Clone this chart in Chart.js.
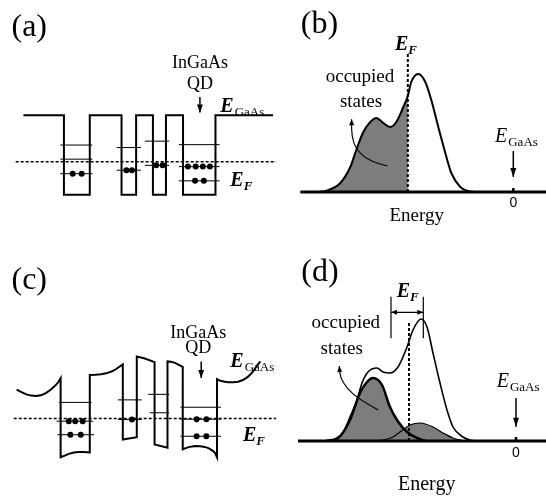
<!DOCTYPE html>
<html>
<head>
<meta charset="utf-8">
<script src="https://cdn.jsdelivr.net/npm/chart.js@4.4.1/dist/chart.umd.min.js"></script>
<style>
  html, body { margin: 0; padding: 0; background: #fff; }
  #fig { position: relative; width: 546px; height: 500px; overflow: hidden; }
  #fig canvas { position: absolute; }
</style>
</head>
<body>
<div id="fig">
  <canvas id="pa" width="280" height="250" style="left:0;top:0"></canvas>
  <canvas id="pb" width="266" height="250" style="left:280px;top:0"></canvas>
  <canvas id="pc" width="280" height="250" style="left:0;top:250px"></canvas>
  <canvas id="pd" width="266" height="250" style="left:280px;top:250px"></canvas>
</div>
<script>
// ─────────────────────────────────────────────
//  DATA  (schematic units: position / energy, E_F = 0 in (a),(c); E_GaAs = 0 in (b),(d))
// ─────────────────────────────────────────────

// (a) flat bands
const bandA_x = [20, 61.7, 61.7, 88.3, 88.3, 121, 121, 136, 136, 153.3, 153.3, 166.7, 166.7, 184.3, 184.3, 217.7, 217.7, 277];
const bandA_E = [48, 48, -34, -34, 48, 48, -34, -34, 48, 48, -34, -34, 48, 48, -34, -34, 48, 48];
const levA_x1 = [58, 58, 58, 116, 116, 145, 145, 180, 180, 180];
const levA_x2 = [91, 91, 91, 141, 141, 170, 170, 222, 222, 222];
const levA_E  = [17.3, 2.7, -12.3, 14.7, -8.7, 21.3, -3.7, 17.7, -5, -19.7];
const dotsA_x = [70.7, 80, 126, 131.7, 156.7, 163.3, 189.3, 197.3, 204.7, 212, 196.7, 205.7];
const dotsA_E = [-12.3, -12.3, -8.7, -8.7, -3.7, -3.7, -5, -5, -5, -5, -19.7, -19.7];

// (c) bent bands
const bandC_x = [13, 18, 23, 28, 33, 38, 43, 48, 52, 55.5, 58.3,
  58.3, 62, 66.7, 72, 76.7, 82, 88.3,
  88.3, 94, 100, 105, 110, 114, 118, 122.3,
  122.3, 136.7, 136.7, 145, 155,
  155, 168.3, 168.3, 172, 176, 180, 184,
  184, 190, 196.7, 202, 206.7, 211, 215, 217.5, 219.3,
  219.3, 222, 226, 231, 236, 241, 246, 251, 255, 258, 261, 264];
const bandC_E = [30, 27.3, 25, 23.7, 23.3, 24, 26.3, 29.7, 33.3, 37, 41.7,
  -40, -38.5, -36.5, -35, -34.5, -34.6, -35,
  45, 45.2, 45.7, 46.7, 48.3, 50.2, 53, 56,
  -21.7, -19.3, 64, 62, 58.3,
  -26.7, -30, 59, 58.6, 57.5, 55.5, 53.3,
  -31.7, -29.5, -28.3, -28.5, -29.3, -30.8, -33.3, -36, -40,
  40.7, 39.3, 38.2, 37.5, 37.4, 38, 39.8, 43, 47, 51, 55.5, 59];
const levC_x1 = [56.7, 54, 55, 117.3, 117.3, 148.3, 150, 181.7, 181.7, 181.7];
const levC_x2 = [90, 91.7, 92.7, 141.7, 141.7, 170, 170, 223.3, 223.3, 223.3];
const levC_E  = [16.7, -2.7, -16.7, 19.3, -1, 25, 6, 11.7, -0.7, -18.3];
const dotsC_x = [66.7, 73.3, 81, 68.3, 79, 131.7, 198.3, 208.3, 198.3, 208.3];
const dotsC_E = [-2.7, -2.7, -2.7, -16.7, -16.7, -1, -0.7, -0.7, -18.3, -18.3];

// (b) density of states
const dosB_E = [-196, -186, -173, -163, -157, -150, -143, -137, -130, -123, -117, -110, -105.5, -102, -95, -88, -82, -75, -68, -62, -53, -45, -38];
const dosB_D = [0, 1.5, 9, 25, 42, 60, 70, 74, 69, 65, 70, 85, 96, 110, 118, 110, 92, 65, 39, 19, 5, 1, 0];
const EF_B = -105.5;

// (d) density of states + two occupied components
const dosD_E = [-192, -181, -173, -166, -159, -154, -148, -139, -133, -126, -118, -109, -103, -95, -89, -83, -76, -69, -63, -53, -46, -38];
const dosD_D = [0, 2, 8, 24, 41, 58, 69, 73, 69, 68, 74, 94, 111, 122, 114, 88, 58, 31, 14, 4, 1, 0];
const g1D_E = [-190, -178, -166, -156, -149, -143, -134, -126, -119, -109, -99, -90];
const g1D_D = [0, 3, 21, 48, 59, 63, 56, 34, 21, 9, 3, 0];
const g2D_E = [-140, -133, -123, -116, -106, -96, -83, -73, -63, -52];
const g2D_D = [0, 1, 4, 9, 16, 18, 14, 8, 3, 0];
const EF_D = -107;
const EF_D_range = [-125, -92.7];

// ─────────────────────────────────────────────
//  HELPERS
// ─────────────────────────────────────────────
const SERIF = '"Liberation Serif", "Times New Roman", serif';
const GREY  = '#7d7d7d';
const DASH  = [3, 2];

const pts = (xs, ys) => xs.map((x, i) => ({ x, y: ys[i] }));

function line(xs, ys, w, extra) {
  return Object.assign({ data: pts(xs, ys), showLine: true, borderColor: '#000', borderWidth: w,
    pointRadius: 0, fill: false, tension: 0, clip: false, borderJoinStyle: 'miter' }, extra || {});
}
function segs(x1s, x2s, ys, w) {
  return x1s.map((x1, i) => line([x1, x2s[i]], [ys[i], ys[i]], w));
}
function dots(xs, ys) {
  return { data: pts(xs, ys), showLine: false, pointRadius: 3, pointBackgroundColor: '#000',
    pointBorderWidth: 0, clip: false };
}

function arrowHead(ctx, x0, y0, x1, y1, len, wid) {
  const a = Math.atan2(y1 - y0, x1 - x0), c = Math.cos(a), s = Math.sin(a);
  ctx.beginPath();
  ctx.moveTo(x1, y1);
  ctx.lineTo(x1 - len * c + wid / 2 * s, y1 - len * s - wid / 2 * c);
  ctx.lineTo(x1 - len * c - wid / 2 * s, y1 - len * s + wid / 2 * c);
  ctx.closePath();
  ctx.fill();
}

// text + arrows drawn in data units of each panel
const annot = {
  id: 'annot',
  afterDatasetsDraw(chart, args, o) {
    const ctx = chart.ctx, sx = chart.scales.x, sy = chart.scales.y;
    const X = v => sx.getPixelForValue(v), Y = v => sy.getPixelForValue(v);
    ctx.save();
    ctx.fillStyle = '#000'; ctx.strokeStyle = '#000';
    (o.texts || []).forEach(t => {
      ctx.font = t.font;
      ctx.textAlign = t.align || 'center';
      ctx.textBaseline = t.base || 'middle';
      ctx.fillText(t.text, X(t.x), Y(t.y));
    });
    (o.subs || []).forEach(t => {
      const px = X(t.x), py = Y(t.y);
      ctx.textAlign = 'left'; ctx.textBaseline = 'alphabetic';
      ctx.font = t.font;
      ctx.fillText(t.main, px, py);
      const w = ctx.measureText(t.main).width;
      ctx.font = t.subFont;
      ctx.fillText(t.sub, px + w + (t.gap || 0), py + (t.dy || 4));
    });
    (o.arrows || []).forEach(a => {
      const p = a.pts.map(q => [X(q[0]), Y(q[1])]);
      ctx.lineWidth = a.w || 1.5;
      ctx.beginPath();
      ctx.moveTo(p[0][0], p[0][1]);
      for (let i = 1; i < p.length - 1; i++) {
        const mx = (p[i][0] + p[i + 1][0]) / 2, my = (p[i][1] + p[i + 1][1]) / 2;
        ctx.quadraticCurveTo(p[i][0], p[i][1], mx, my);
      }
      const n = p.length;
      ctx.lineTo(p[n - 1][0], p[n - 1][1]);
      ctx.stroke();
      arrowHead(ctx, p[n - 2][0], p[n - 2][1], p[n - 1][0], p[n - 1][1], a.len || 8, a.wid || 6);
      if (a.both) arrowHead(ctx, p[1][0], p[1][1], p[0][0], p[0][1], a.len || 8, a.wid || 6);
    });
    ctx.restore();
  }
};

function panel(id, xr, yr, datasets, ann) {
  return new Chart(document.getElementById(id), {
    type: 'scatter',
    data: { datasets },
    options: {
      responsive: false, animation: false, events: [],
      layout: { padding: 0 },
      scales: {
        x: { type: 'linear', min: xr[0], max: xr[1], display: false },
        y: { type: 'linear', min: yr[0], max: yr[1], display: false }
      },
      plugins: { legend: { display: false }, tooltip: { enabled: false },
        filler: { drawTime: 'beforeDatasetsDraw' }, annot: ann }
    },
    plugins: [annot]
  });
}

const labelFont = '32px ' + SERIF;
const qdFont    = '18px ' + SERIF;
const eBold     = 'bold italic 20px ' + SERIF;
const eBoldSub  = 'bold italic 13px ' + SERIF;
const eItal     = 'italic 20px ' + SERIF;
const subFont   = '13px ' + SERIF;

// ─────────────────────────────────────────────
//  (a)
// ─────────────────────────────────────────────
panel('pa', [0, 280], [-87, 163], [
  dots(dotsA_x, dotsA_E),
  line(bandA_x, bandA_E, 2),
  ...segs(levA_x1, levA_x2, levA_E, 1),
  line([12, 280], [0, 0], 1.5, { borderDash: DASH })
], {
  texts: [
    { text: '(a)', x: 26, y: 139, font: labelFont },
    { text: 'InGaAs', x: 201.7, y: 101.3, font: qdFont },
    { text: 'QD', x: 201.7, y: 79.7, font: qdFont }
  ],
  subs: [
    { main: 'E', sub: 'GaAs', x: 222.7, y: 51, font: eBold, subFont, dy: 4, gap: 1 },
    { main: 'E', sub: 'F', x: 233, y: -25, font: eBold, subFont: eBoldSub, dy: 4 }
  ],
  arrows: [{ pts: [[201.7, 67], [201.7, 51]], w: 1.5, len: 8, wid: 6 }]
});

// ─────────────────────────────────────────────
//  (b)
// ─────────────────────────────────────────────
const occB = dosB_E.map((e, i) => i).filter(i => dosB_E[i] <= EF_B);
panel('pb', [-233.3, 32.7], [-58, 192], [
  line(dosB_E, dosB_D, 2, { cubicInterpolationMode: 'monotone' }),
  line([EF_B, EF_B], [0, 138], 2, { borderDash: DASH }),
  line(occB.map(i => dosB_E[i]), occB.map(i => dosB_D[i]), 0,
       { cubicInterpolationMode: 'monotone', fill: 'origin', backgroundColor: GREY }),
  line([-213, 33], [0, 0], 3),
  line([0, 0], [0, 4], 2.5)
], {
  texts: [
    { text: '(b)', x: -193.8, y: 167, font: labelFont },
    { text: 'occupied', x: -153.3, y: 115.3, font: '19px ' + SERIF },
    { text: 'states', x: -152.3, y: 90, font: '19px ' + SERIF },
    { text: '0', x: 0, y: -11, font: '14px "Liberation Sans", Arial, sans-serif' },
    { text: 'Energy', x: -96.6, y: -24, font: '19px ' + SERIF }
  ],
  subs: [
    { main: 'E', sub: 'F', x: -118.3, y: 142, font: eBold, subFont: eBoldSub, dy: 4 },
    { main: 'E', sub: 'GaAs', x: -18.3, y: 50, font: eItal, subFont, dy: 4, gap: 1 }
  ],
  arrows: [
    { pts: [[0, 41], [0, 15]], w: 1.5, len: 9, wid: 6 },
    { pts: [[-126, 26], [-143.3, 30.3], [-156.7, 42], [-161.7, 55.3], [-161.7, 72.7]], w: 1.2, len: 6, wid: 5 }
  ]
});

// ─────────────────────────────────────────────
//  (c)
// ─────────────────────────────────────────────
panel('pc', [0, 280], [-80, 170], [
  dots(dotsC_x, dotsC_E),
  line(bandC_x, bandC_E, 2),
  ...segs(levC_x1, levC_x2, levC_E, 1),
  line([10, 280], [0, 0], 1.5, { borderDash: DASH })
], {
  texts: [
    { text: '(c)', x: 26, y: 142.5, font: labelFont },
    { text: 'InGaAs', x: 200, y: 88, font: qdFont },
    { text: 'QD', x: 200, y: 72.5, font: qdFont }
  ],
  subs: [
    { main: 'E', sub: 'GaAs', x: 233, y: 53, font: eBold, subFont, dy: 4, gap: 1 },
    { main: 'E', sub: 'F', x: 246, y: -23, font: eBold, subFont: eBoldSub, dy: 4 }
  ],
  arrows: [{ pts: [[203, 59], [203, 42]], w: 1.5, len: 8, wid: 6 }]
});

// ─────────────────────────────────────────────
//  (d)
// ─────────────────────────────────────────────
panel('pd', [-236, 30], [-59, 191], [
  line(g1D_E, g1D_D, 2.5, { cubicInterpolationMode: 'monotone', fill: 'origin', backgroundColor: GREY }),
  line(g2D_E, g2D_D, 1.2, { cubicInterpolationMode: 'monotone', fill: 'origin', backgroundColor: GREY }),
  line(dosD_E, dosD_D, 1.6, { cubicInterpolationMode: 'monotone' }),
  line([EF_D, EF_D], [0, 119], 2, { borderDash: DASH }),
  line([EF_D_range[0], EF_D_range[0]], [102.7, 144.3], 1.2),
  line([EF_D_range[1], EF_D_range[1]], [102.7, 144.3], 1.2),
  line([-218, 30], [0, 0], 3),
  line([0, 0], [0, 4], 2.5)
], {
  texts: [
    { text: '(d)', x: -196, y: 168, font: labelFont },
    { text: 'occupied', x: -170.2, y: 117.7, font: '19px ' + SERIF },
    { text: 'states', x: -174.3, y: 92, font: '19px ' + SERIF },
    { text: '0', x: 0, y: -12.3, font: '14px "Liberation Sans", Arial, sans-serif' },
    { text: 'Energy', x: -89.3, y: -44, font: '20px ' + SERIF }
  ],
  subs: [
    { main: 'E', sub: 'F', x: -119.3, y: 144, font: eBold, subFont: eBoldSub, dy: 4 },
    { main: 'E', sub: 'GaAs', x: -19.3, y: 54.3, font: eItal, subFont, dy: 4, gap: 1 }
  ],
  arrows: [
    { pts: [[0, 43], [0, 14.3]], w: 1.5, len: 9, wid: 6 },
    { pts: [[-137.7, 31], [-156, 41], [-169.3, 52.7], [-176, 64.3], [-176.7, 75]], w: 1.2, len: 6, wid: 5 },
    { pts: [[EF_D_range[0], 128.7], [EF_D_range[1], 128.7]], w: 1.2, len: 6, wid: 5, both: true }
  ]
});
</script>
</body>
</html>
